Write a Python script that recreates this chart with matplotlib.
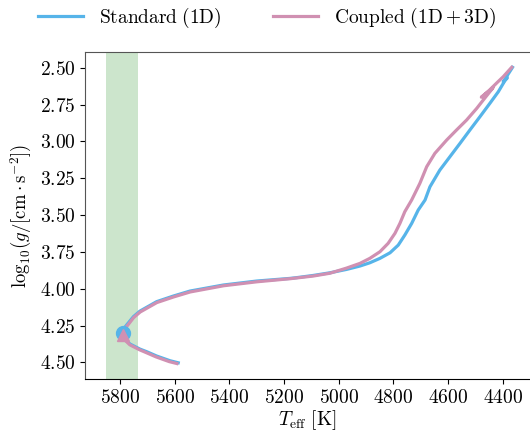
import numpy as np
import matplotlib
matplotlib.use('Agg')
import matplotlib.pyplot as plt

plt.rcParams.update({
    "font.family": "serif",
    "font.serif": ["cmr10"],
    "mathtext.fontset": "cm",
    "axes.formatter.use_mathtext": True,
    "axes.unicode_minus": False,
})

# ---------------------------------------------------------------------------
# DATA
# ---------------------------------------------------------------------------
teff_std = [5587, 5617, 5666, 5702, 5727, 5763, 5782, 5791, 5790, 5776,
            5751, 5727, 5666, 5605, 5544, 5422, 5300, 5178, 5154, 5093,
            5032, 4971, 4922, 4886, 4849, 4812, 4782, 4758, 4733, 4709,
            4684, 4666, 4630, 4593, 4556, 4520, 4483, 4447, 4416, 4392,
            4383, 4398, 4364]
logg_std = [4.503, 4.489, 4.457, 4.428, 4.410, 4.376, 4.344, 4.308, 4.281, 4.247,
            4.190, 4.152, 4.088, 4.050, 4.016, 3.975, 3.948, 3.930, 3.925, 3.910,
            3.892, 3.869, 3.846, 3.824, 3.794, 3.756, 3.704, 3.636, 3.557, 3.466,
            3.398, 3.308, 3.195, 3.104, 3.013, 2.923, 2.832, 2.742, 2.663, 2.588,
            2.568, 2.596, 2.497]

teff_cpl = [5592, 5620, 5668, 5704, 5728, 5764, 5782, 5791, 5789, 5774,
            5750, 5726, 5665, 5604, 5543, 5421, 5299, 5177, 5093, 5032,
            4971, 4922, 4886, 4849, 4819, 4794, 4776, 4758, 4733, 4703,
            4678, 4648, 4605, 4569, 4532, 4495, 4471, 4450, 4435, 4478,
            4450, 4420, 4398, 4367]
logg_cpl = [4.508, 4.495, 4.463, 4.434, 4.415, 4.381, 4.349, 4.313, 4.286, 4.253,
            4.196, 4.158, 4.094, 4.056, 4.022, 3.980, 3.953, 3.932, 3.914, 3.895,
            3.860, 3.828, 3.794, 3.749, 3.692, 3.624, 3.557, 3.477, 3.398, 3.285,
            3.172, 3.081, 2.991, 2.923, 2.855, 2.776, 2.719, 2.670, 2.635, 2.700,
            2.655, 2.600, 2.561, 2.497]

sun_std = (5790, 4.299)
sun_cpl = (5788, 4.315)
band = (5735, 5852)

C_STD = '#56B4E9'
C_CPL = '#D090B2'

fig = plt.figure(figsize=(5.30, 4.32), dpi=100)
ax = fig.add_axes([0.1604, 0.1227, 0.8396, 0.7576])

ax.axvspan(*band, color='green', alpha=0.2, lw=0, zorder=0)

ax.plot(teff_std, logg_std, color=C_STD, lw=2.3, label=r'Standard$\;$(1D)',
        solid_joinstyle='round', zorder=3)
ax.plot(teff_cpl, logg_cpl, color=C_CPL, lw=2.3,
        label=r'Coupled$\ (1\mathrm{D} + 3\mathrm{D})$',
        solid_joinstyle='round', zorder=4)
ax.plot(*sun_std, 'o', color=C_STD, ms=10, zorder=5)
ax.plot(*sun_cpl, '^', color=C_CPL, ms=9, zorder=6)

ax.set_xlim(5928, 4300)
ax.set_ylim(4.613, 2.391)
ax.set_xticks(np.arange(5800, 4300, -200))
ax.set_yticks(np.arange(2.5, 4.51, 0.25))
ax.tick_params(direction='out', length=3.5, labelsize=14, top=False, right=False)

for s in ['left', 'top']:
    ax.spines[s].set_color('#555555')
ax.spines['right'].set_visible(False)
ax.spines['bottom'].set_color('black')

ax.set_xlabel(r'$T_{\rm eff}\ [\rm K]$', fontsize=14, labelpad=1)
ax.set_ylabel(r'$\mathrm{log}_{10}(g/[\mathrm{cm}\cdot\mathrm{s}^{-2}])$',
              fontsize=13.5, labelpad=4)

fig.legend(loc='center', bbox_to_anchor=(0.504, 0.958), ncol=2, frameon=False,
           fontsize=14, handlelength=2.3, handletextpad=0.8, columnspacing=2.7)

fig.savefig('out.png', dpi=100)
